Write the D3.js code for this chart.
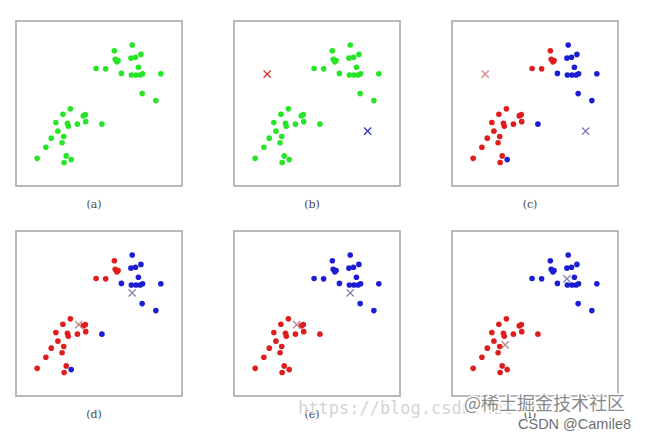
<!DOCTYPE html>
<html><head><meta charset="utf-8">
<script src="https://cdn.jsdelivr.net/npm/d3@7"></script>
<style>html,body{margin:0;padding:0;background:#fff;}svg{display:block;}</style>
</head><body>
<svg id="chart" width="650" height="434"></svg>
<script>
// Data points (standardised units, same set in every panel)
const pointsX = [0.37,0.80,0.39,0.43,0.46,0.77,0.88,1.01,-0.07,0.16,0.95,0.54,0.78,0.89,0.99,1.05,1.49,1.04,1.37,
  -0.69,-0.87,-0.38,-0.33,-1.04,-0.76,-0.74,-0.52,-0.32,0.07,-0.99,-0.85,-1.15,-0.89,-1.28,-0.79,-0.67,-0.84,-1.49];
const pointsY = [1.28,1.42,1.07,1.01,1.04,1.10,1.12,1.19,0.85,0.84,0.88,0.73,0.69,0.69,0.69,0.72,0.72,0.24,0.07,
  -0.13,-0.26,-0.30,-0.27,-0.46,-0.48,-0.55,-0.50,-0.44,-0.50,-0.67,-0.80,-0.84,-0.95,-1.06,-1.27,-1.36,-1.43,-1.33];
// cluster assignment after first E-step (0 = red, 1 = blue)
const assign1 = [0,1,0,0,0,1,1,1,0,0,1,1,1,1,1,1,1,1,1,
  0,0,0,0,0,0,0,0,0,1,0,0,0,0,0,0,1,0,0];
// cluster assignment after second E-step
const assign2 = [1,1,1,1,1,1,1,1,1,1,1,1,1,1,1,1,1,1,1,
  0,0,0,0,0,0,0,0,0,0,0,0,0,0,0,0,0,0,0];
// centroids [red, blue]
const cent0X = [-1.20, 1.22], cent0Y = [0.71, -0.67];
const cent1X = [-0.49, 0.80], cent1Y = [-0.27, 0.50];
const cent2X = [-0.72, 0.77], cent2Y = [-0.76, 0.84];
const panelLabels = ["(a)","(b)","(c)","(d)","(e)","(f)"];

const panels = [
  {assign: null, cx: null, cy: null, xStyle: null},
  {assign: null, cx: cent0X, cy: cent0Y, xStyle: "strong"},
  {assign: assign1, cx: cent0X, cy: cent0Y, xStyle: "faded"},
  {assign: assign1, cx: cent1X, cy: cent1Y, xStyle: "grey"},
  {assign: assign2, cx: cent1X, cy: cent1Y, xStyle: "grey"},
  {assign: assign2, cx: cent2X, cy: cent2Y, xStyle: "grey"}
];

const svg = d3.select("#chart");
const defs = svg.append("defs");
defs.append("filter").attr("id","soft").append("feGaussianBlur").attr("stdDeviation",0.45);

const W = 166, H = 165;
const colX = d3.scaleOrdinal().domain([0,1,2]).range([16, 234, 452]);
const rowY = d3.scaleOrdinal().domain([0,1]).range([21, 231]);
const x = d3.scaleLinear().domain([-2,2]).range([0,W]);
const y = d3.scaleLinear().domain([-2,2]).range([H,0]);
const ptColor = ["#e01e1e", "#1e1ed2"];
const green = "#28e428";
const xColors = {
  strong: ["#dd3a3a", "#3a3ac8"],
  faded: ["#d98a8a", "#7f7fc4"],
  grey: ["#c08890", "#8585b8"]
};

panels.forEach((p, i) => {
  const g = svg.append("g").attr("transform", `translate(${colX(i%3)},${rowY(Math.floor(i/3))})`);
  g.append("rect").attr("x",0).attr("y",0).attr("width",W).attr("height",H)
    .attr("fill","#fff").attr("stroke","#adadad").attr("stroke-width",1.7);
  const pts = g.append("g").attr("filter","url(#soft)");
  pts.selectAll("circle").data(d3.range(pointsX.length)).join("circle")
    .attr("cx", k => x(pointsX[k])).attr("cy", k => y(pointsY[k])).attr("r", 2.8)
    .attr("fill", k => p.assign ? ptColor[p.assign[k]] : green);
  if (p.cx) {
    const s = 3.6;
    const xs = g.append("g").attr("filter","url(#soft)");
    [0,1].forEach(c => {
      const cx = x(p.cx[c]), cy = y(p.cy[c]);
      xs.append("path").attr("d", `M${cx-s},${cy-s}L${cx+s},${cy+s}M${cx-s},${cy+s}L${cx+s},${cy-s}`)
        .attr("stroke", xColors[p.xStyle][c]).attr("stroke-width", 1.4).attr("fill","none");
    });
  }
  g.append("text").attr("x", W/2 - 5).attr("y", H + 22).attr("text-anchor","middle")
    .attr("font-family","'DejaVu Serif', serif").attr("font-size",11).attr("fill","#4a4a4a")
    .text(panelLabels[i]);
});

// watermarks
svg.append("text").attr("x",298).attr("y",414).attr("font-family","'DejaVu Sans Mono', monospace")
  .attr("font-size",17).attr("fill","#d4d4d4").text("https://blog.csdn.net");
svg.append("text").attr("x",464).attr("y",410).attr("font-family","'Noto Sans CJK SC', sans-serif")
  .attr("font-size",18).attr("fill","#8a8a8a").attr("stroke","#fff").attr("stroke-width",3)
  .attr("paint-order","stroke").text("@稀土掘金技术社区");
svg.append("text").attr("x",518).attr("y",429).attr("font-family","'Liberation Sans', Arial, sans-serif")
  .attr("font-size",14.5).attr("fill","#707070").text("CSDN @Camile8");
</script>
</body></html>
